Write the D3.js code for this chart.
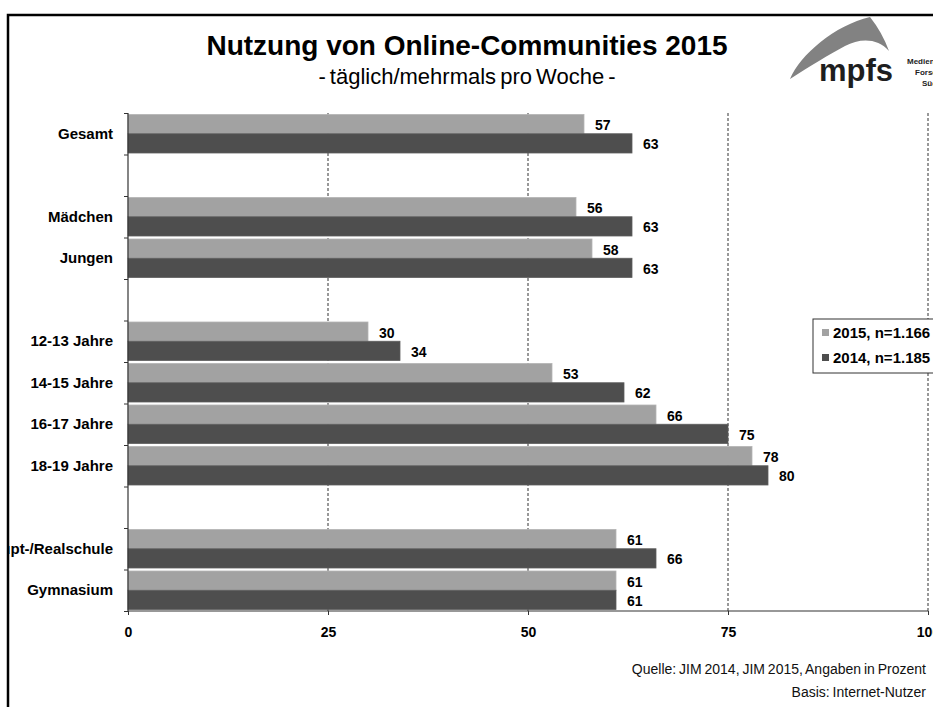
<!DOCTYPE html>
<html>
<head>
<meta charset="utf-8">
<script src="https://cdn.jsdelivr.net/npm/d3@7"></script>
<style>
  html, body { margin: 0; padding: 0; background: #fff; }
  svg { display: block; font-family: "Liberation Sans", Arial, Helvetica, sans-serif; }
</style>
</head>
<body>
<div id="chart"></div>
<script>
// categories, null = empty row between groups
const categories = ['Gesamt', null, 'Mädchen', 'Jungen', null, '12-13 Jahre', '14-15 Jahre', '16-17 Jahre', '18-19 Jahre', null, 'Haupt-/Realschule', 'Gymnasium'];
const values2015 = [57, null, 56, 58, null, 30, 53, 66, 78, null, 61, 61];
const values2014 = [63, null, 63, 63, null, 34, 62, 75, 80, null, 66, 61];
const seriesNames = ['2015, n=1.166', '2014, n=1.185'];
const xTicks = [0, 25, 50, 75, 100];

const width = 933;
const height = 707;
const colors = ['#a2a2a2', '#4e4e4e'];

const svg = d3.select('#chart').append('svg')
  .attr('width', width)
  .attr('height', height);

// plot area
const plotLeft = 128, plotRight = 928, plotTop = 113, plotBottom = 611;

const x = d3.scaleLinear().domain([0, 100]).range([plotLeft, plotRight]);
const y = d3.scaleBand().domain(d3.range(categories.length)).range([plotTop, plotBottom]).padding(0);
const ySeries = d3.scaleBand().domain([0, 1]).range([1.5, y.bandwidth() - 1.5]).padding(0);

// title
svg.append('text')
  .attr('x', 467).attr('y', 55)
  .attr('text-anchor', 'middle')
  .style('font-size', '28px').style('font-weight', 'bold')
  .text('Nutzung von Online-Communities 2015');

svg.append('text')
  .attr('x', 467).attr('y', 84)
  .attr('text-anchor', 'middle')
  .style('font-size', '22px').style('word-spacing', '-2px')
  .text('- täglich/mehrmals pro Woche -');

// logo
const logo = svg.append('g');
logo.append('path')
  .attr('d', 'M790,79 C800,55 835,25 870,17 Q882,32 889,51 C878,38 860,38 845,46 C830,54 810,66 790,79 Z')
  .attr('fill', '#828282');
logo.append('text')
  .attr('x', 819).attr('y', 81)
  .style('font-size', '31px').style('font-weight', 'bold').style('fill', '#1e1e1e')
  .text('mpfs');
logo.selectAll('text.sub')
  .data([['Medienpädagogischer', 907], ['Forschungsverbund', 915], ['Südwest', 922]])
  .join('text')
  .attr('class', 'sub')
  .attr('x', (d) => d[1])
  .attr('y', (d, i) => 64 + i * 11)
  .style('font-size', '8px').style('font-weight', 'bold').style('fill', '#222')
  .text((d) => d[0]);

// gridlines
svg.append('g')
  .selectAll('line')
  .data(xTicks.slice(1))
  .join('line')
  .attr('x1', (d) => x(d)).attr('x2', (d) => x(d))
  .attr('y1', plotTop).attr('y2', plotBottom)
  .attr('stroke', '#333')
  .attr('stroke-dasharray', '3,2');

// bars
const rows = categories.map((c, i) => ({ i, c, v: [values2015[i], values2014[i]] })).filter((d) => d.c);

const rowG = svg.append('g')
  .selectAll('g')
  .data(rows)
  .join('g')
  .attr('transform', (d) => `translate(0,${y(d.i)})`);

rowG.selectAll('rect')
  .data((d) => d.v)
  .join('rect')
  .attr('x', x(0))
  .attr('y', (d, j) => ySeries(j))
  .attr('width', (d) => x(d) - x(0))
  .attr('height', ySeries.bandwidth())
  .attr('fill', (d, j) => colors[j])
  .attr('stroke', (d, j) => (j === 0 ? '#b4b4b4' : '#5e5e5e'))
  .attr('stroke-width', 0.8);

rowG.selectAll('text.val')
  .data((d) => d.v)
  .join('text')
  .attr('class', 'val')
  .attr('x', (d) => x(d) + 11)
  .attr('y', (d, j) => ySeries(j) + ySeries.bandwidth() / 2)
  .attr('dy', '0.43em')
  .style('font-size', '14px').style('font-weight', 'bold')
  .text((d) => d);

// category labels
svg.append('g')
  .selectAll('text')
  .data(rows)
  .join('text')
  .attr('x', 113)
  .attr('y', (d) => y(d.i) + y.bandwidth() / 2)
  .attr('dy', '0.33em')
  .attr('text-anchor', 'end')
  .style('font-size', '15px').style('font-weight', 'bold')
  .text((d) => d.c);

// axes
const yTicks = d3.scaleLinear().domain([0, categories.length]).range([plotTop, plotBottom]);
const yAxis = svg.append('g')
  .attr('transform', `translate(${plotLeft},0)`)
  .call(d3.axisLeft(yTicks).tickValues(d3.range(categories.length + 1)).tickSize(4).tickFormat(''));
yAxis.select('.domain').attr('stroke', '#333').attr('stroke-width', 1.2).attr('d', `M0,${plotTop}V${plotBottom}`);
yAxis.selectAll('line').attr('stroke', '#333');

const xAxis = svg.append('g')
  .attr('transform', `translate(0,${plotBottom})`)
  .call(d3.axisBottom(x).tickValues(xTicks).tickSize(4).tickPadding(12));
xAxis.select('.domain').attr('stroke', '#333').attr('stroke-width', 1.2).attr('d', `M${plotLeft},0H${plotRight}`);
xAxis.selectAll('line').attr('stroke', '#333');
xAxis.selectAll('text')
  .style('font-size', '14px').style('font-weight', 'bold')
  .style('font-family', '"Liberation Sans", Arial, sans-serif')
  .attr('fill', '#000');

// legend
const legend = svg.append('g').attr('transform', 'translate(813,319)');
legend.append('rect')
  .attr('width', 140).attr('height', 54)
  .attr('fill', '#fff').attr('stroke', '#333');
const li = legend.selectAll('g')
  .data(seriesNames)
  .join('g')
  .attr('transform', (d, i) => `translate(9,${14 + i * 25})`);
li.append('rect')
  .attr('y', -4).attr('width', 7).attr('height', 7)
  .attr('fill', (d, i) => colors[i]);
li.append('text')
  .attr('x', 11).attr('dy', '0.33em')
  .style('font-size', '15px').style('font-weight', 'bold')
  .text((d) => d);

// source
svg.selectAll('text.src')
  .data(['Quelle: JIM 2014, JIM 2015, Angaben in Prozent', 'Basis: Internet-Nutzer'])
  .join('text')
  .attr('class', 'src')
  .attr('x', 926)
  .attr('y', (d, i) => 674 + i * 23)
  .attr('text-anchor', 'end')
  .style('font-size', '14px').style('fill', '#111').style('word-spacing', '-1px')
  .text((d) => d);

// frame (left part of the slide is cut off)
svg.append('rect').attr('x', 0).attr('y', 0).attr('width', 7).attr('height', height).attr('fill', '#fff');
svg.append('rect').attr('x', 0).attr('y', 0).attr('width', width).attr('height', 14).attr('fill', '#fff');
svg.append('path')
  .attr('d', `M8,${height}V15H${width}`)
  .attr('fill', 'none')
  .attr('stroke', '#000')
  .attr('stroke-width', 2.5);
</script>
</body>
</html>
